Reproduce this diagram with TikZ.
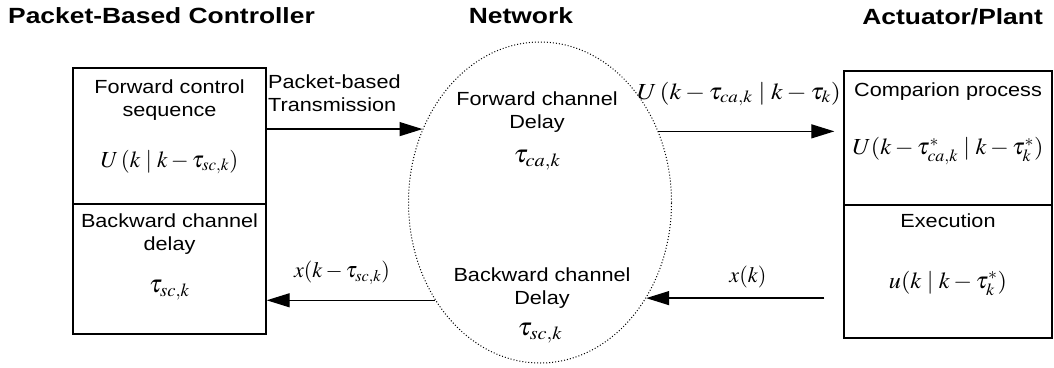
\documentclass[tikz,border=0pt]{standalone}
\usepackage{mathptmx}
\usepackage[no-math]{fontspec}
\setmainfont[FakeStretch=1.14]{Liberation Sans}
\newfontfamily\titlefont[FakeStretch=1.2]{Liberation Sans}
\usetikzlibrary{shapes.geometric,arrows.meta}
\newcommand{\mymath}[3]{{\fontsize{#1}{#1}\selectfont\scalebox{#2}[1]{$#3$}}}
\tikzset{
  x=1pt, y=-1pt,
  sec/.style={draw, line width=1.4pt, inner sep=0pt},
  lbl/.style={font=\fontsize{19}{23}\selectfont, align=center, inner sep=0pt},
  ttl/.style={font=\titlefont\bfseries\fontsize{22}{26}\selectfont, inner sep=0pt},
  mth/.style={inner sep=0pt},
  arr/.style={line width=1.3pt, -{Triangle[length=23pt,width=14pt]}},
  net/.style={ellipse, draw, dotted, line width=1pt, inner sep=0pt}
}
\begin{document}
\begin{tikzpicture}
\useasboundingbox (0,0) rectangle (1054,367);
% titles
\node[ttl, anchor=west] (t1) at (8,16) {Packet-Based Controller};
\node[ttl] (t2) at (521,16) {Network};
\node[ttl, anchor=east] (t3) at (1043,17) {Actuator/Plant};
% controller box
\node[sec, minimum width=193, minimum height=136] (cf) at (169.5,136) {};
\node[sec, minimum width=193, minimum height=130] (cb) at (169.5,269) {};
\node[lbl, anchor=north] (cft) at (169.5,80) {Forward control\\sequence};
\node[mth] (cfm) at (169.5,162) {\mymath{23}{1}{U\,(k\mid k-\tau_{sc,k})}};
\node[lbl, anchor=north] (cbt) at (169.5,214) {Backward channel\\delay};
\node[mth] (cbm) at (169.5,290) {\mymath{25}{1}{\tau_{sc,k}}};
% plant box
\node[sec, minimum width=208, minimum height=134] (pf) at (948,138) {};
\node[sec, minimum width=208, minimum height=133] (pb) at (948,271.5) {};
\node[lbl, anchor=north] (pft) at (948,83) {Comparion process};
\node[mth] (pfm) at (948,151) {\mymath{23}{1.05}{U(k-\tau^{*}_{ca,k}\mid k-\tau^{*}_{k})}};
\node[lbl, anchor=north] (pbt) at (948,214) {Execution};
\node[mth] (pbm) at (948,283) {\mymath{23}{1.05}{u(k\mid k-\tau^{*}_{k})}};
% network
\node[net, minimum width=263, minimum height=321] (net) at (540,202.5) {};
\node[lbl, anchor=north] (nft) at (537,92) {Forward channel\\Delay};
\node[mth] (nfm) at (537,160) {\mymath{25}{1.1}{\tau_{ca,k}}};
\node[lbl, anchor=north] (nbt) at (542,268) {Backward channel\\Delay};
\node[mth] (nbm) at (540,333) {\mymath{25}{1.1}{\tau_{sc,k}}};
% connector end points
\coordinate (fin) at (net.148.8);
\coordinate (fout) at (net.31.6);
\coordinate (bin) at (net.-42.9);
\coordinate (bout) at (net.223.2);
\coordinate (fend) at ([xshift=-9pt]pf.west |- fout);
\coordinate (bstart) at ([xshift=-19pt]pb.west |- bin);
% connectors
\draw[arr] (cf.east |- fin) -- (fin);
\draw[arr] (fout) -- (fend);
\draw[arr] (bstart) -- (bin);
\draw[arr] (bout) -- (cb.east |- bout);
% connector labels
\node[lbl, align=left, anchor=north west] (l1) at (268,75) {Packet-based\\Transmission};
\node[mth] (l2) at (739,94) {\mymath{23}{1.12}{U\,(k-\tau_{ca,k}\mid k-\tau_{k})}};
\node[mth] (l3) at (342,273) {\mymath{22}{1}{x(k-\tau_{sc,k})}};
\node[mth] (l4) at (748,277) {\mymath{22}{1}{x(k)}};
\end{tikzpicture}
\end{document}
